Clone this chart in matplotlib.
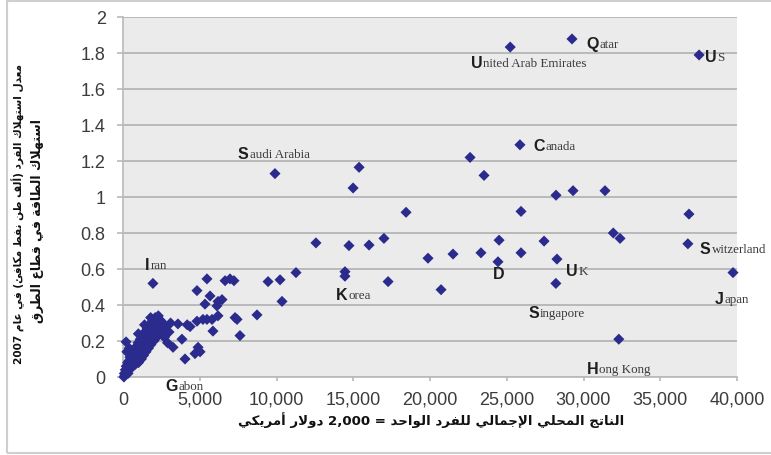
import matplotlib
matplotlib.use('Agg')
import matplotlib.pyplot as plt
from matplotlib.patches import Rectangle

# ---------------- data ----------------
gdp = [
    # dense cluster near origin
    60, 90, 120, 150, 180, 210, 240, 270, 300, 330, 360, 390, 420, 450, 480, 510, 540, 570,
    600, 630, 660, 700, 730, 760, 800, 830, 870, 900, 940, 980, 1010, 1050, 1090, 1120,
    1160, 1200, 1230, 1270, 1300, 1340, 1380, 1420, 1460, 1500, 1540, 1580, 1620, 1660,
    1700, 1740, 1780, 1820, 1860, 1900, 1950, 2000, 2050, 2100, 2150, 2200, 2250, 2300,
    2350, 2400, 2450, 2500, 2600, 2700, 2800, 2900, 3000, 3100, 250, 400, 1000, 1400,
    1800, 200, 2280,
    # low-middle group
    3580, 3840, 3260, 4890, 5020, 4690, 4040, 4370, 4180, 4820, 5210, 5470, 5800, 5860,
    7430, 7620, 8730, 7300, 5340, 6120, 5670, 4820, 6190, 6450, 5470, 6650, 6970, 7230,
    9450, 10230, 10360, 11270, 6190, 1950,
    # middle / high income
    12570, 14720, 16030, 17000, 18440, 15380, 14990, 9900, 22610, 23520, 25860, 14460,
    14460, 17270, 20720, 19870, 21500, 23320, 24500, 25930, 24430, 28270, 28200, 32300,
    36800, 39740, 28210, 29320, 31400, 25930, 36870, 31940, 32380, 27430, 25225, 29250,
    37530,
]
energy = [
    0.00, 0.02, 0.01, 0.04, 0.02, 0.06, 0.03, 0.05, 0.08, 0.02, 0.06, 0.09, 0.04, 0.11, 0.07, 0.05, 0.10, 0.13,
    0.08, 0.06, 0.11, 0.15, 0.09, 0.12, 0.07, 0.14, 0.17, 0.10, 0.13, 0.19, 0.08, 0.15, 0.12, 0.21,
    0.17, 0.10, 0.14, 0.23, 0.19, 0.12, 0.16, 0.25, 0.21, 0.14, 0.18, 0.27, 0.23, 0.16,
    0.20, 0.29, 0.25, 0.18, 0.22, 0.31, 0.27, 0.20, 0.24, 0.33, 0.29, 0.22, 0.26, 0.34,
    0.30, 0.24, 0.28, 0.31, 0.26, 0.22, 0.28, 0.19, 0.25, 0.30, 0.14, 0.16, 0.24, 0.29,
    0.33, 0.195, 0.32,
    0.295, 0.21, 0.165, 0.165, 0.14, 0.13, 0.10, 0.28, 0.29, 0.31, 0.32, 0.32, 0.32, 0.255,
    0.32, 0.23, 0.345, 0.33, 0.405, 0.395, 0.45, 0.48, 0.42, 0.43, 0.545, 0.535, 0.545, 0.535,
    0.53, 0.54, 0.42, 0.58, 0.34, 0.52,
    0.745, 0.73, 0.733, 0.77, 0.915, 1.165, 1.05, 1.13, 1.22, 1.12, 1.29, 0.56,
    0.585, 0.53, 0.485, 0.66, 0.683, 0.69, 0.76, 0.69, 0.64, 0.655, 0.52, 0.21,
    0.74, 0.58, 1.01, 1.035, 1.035, 0.92, 0.905, 0.80, 0.77, 0.755, 1.833, 1.878,
    1.789,
]

label_names = ["Qatar", "United Arab Emirates", "US", "Saudi Arabia", "Canada", "Iran",
               "Korea", "D", "UK", "Singapore", "Switzerland", "Japan", "Hong Kong", "Gabon"]
label_x = [30160, 22670, 37920, 7490, 26710, 1430, 13875, 24110, 28860, 26390, 37590, 38570, 30230, 2740]
label_y = [1.828, 1.722, 1.756, 1.217, 1.261, 0.600, 0.434, 0.550, 0.567, 0.334, 0.689, 0.411, 0.023, -0.072]

xticks = [0, 5000, 10000, 15000, 20000, 25000, 30000, 35000, 40000]
xtick_labels = ["0", "5,000", "10,000", "15,000", "20,000", "25,000", "30,000", "35,000", "40,000"]
yticks = [0, 0.2, 0.4, 0.6, 0.8, 1.0, 1.2, 1.4, 1.6, 1.8, 2.0]
ytick_labels = ["0", "0.2", "0.4", "0.6", "0.8", "1", "1.2", "1.4", "1.6", "1.8", "2"]

ylabel_line1 = "معدل استهلاك الفرد (ألف طن نفط مكافئ) في عام 2007"
ylabel_line2 = "استهلاك الطاقة في قطاع الطرق"
xlabel_text = "الناتج المحلي الإجمالي للفرد الواحد = 2,000 دولار أمريكي"

# ---------------- Arabic shaping helpers ----------------
TWO = {'\u0622': 0xFE81, '\u0623': 0xFE83, '\u0624': 0xFE85, '\u0625': 0xFE87, '\u0627': 0xFE8D,
       '\u0629': 0xFE93, '\u062F': 0xFEA9, '\u0630': 0xFEAB, '\u0631': 0xFEAD, '\u0632': 0xFEAF,
       '\u0648': 0xFEED, '\u0649': 0xFEEF}
FOUR = {'\u0626': 0xFE89, '\u0628': 0xFE8F, '\u062A': 0xFE95, '\u062B': 0xFE99, '\u062C': 0xFE9D,
        '\u062D': 0xFEA1, '\u062E': 0xFEA5, '\u0633': 0xFEB1, '\u0634': 0xFEB5, '\u0635': 0xFEB9,
        '\u0636': 0xFEBD, '\u0637': 0xFEC1, '\u0638': 0xFEC5, '\u0639': 0xFEC9, '\u063A': 0xFECD,
        '\u0641': 0xFED1, '\u0642': 0xFED5, '\u0643': 0xFED9, '\u0644': 0xFEDD, '\u0645': 0xFEE1,
        '\u0646': 0xFEE5, '\u0647': 0xFEE9, '\u064A': 0xFEF1}
LAMALEF = {'\u0622': 0xFEF5, '\u0623': 0xFEF7, '\u0625': 0xFEF9, '\u0627': 0xFEFB}
MIRROR = {'(': ')', ')': '('}


def shape(s):
    toks = []
    i = 0
    while i < len(s):
        c = s[i]
        if c == '\u0644' and i + 1 < len(s) and s[i + 1] in LAMALEF:
            toks.append(('two', LAMALEF[s[i + 1]]))
            i += 2
            continue
        if c in FOUR:
            toks.append(('four', FOUR[c]))
        elif c in TWO:
            toks.append(('two', TWO[c]))
        elif c == '\u0621':
            toks.append(('none', 0xFE80))
        else:
            toks.append(('other', c))
        i += 1
    out = []
    for j, (k, v) in enumerate(toks):
        if k == 'other':
            out.append(v)
            continue
        if k == 'none':
            out.append(chr(v))
            continue
        prev = j > 0 and toks[j - 1][0] == 'four'
        nxt = k == 'four' and j + 1 < len(toks) and toks[j + 1][0] in ('four', 'two')
        if prev and nxt:
            o = v + 3
        elif prev:
            o = v + 1
        elif nxt:
            o = v + 2
        else:
            o = v
        out.append(chr(o))
    return out


def is_ltr(ch):
    return ch.isascii() and (ch.isdigit() or ch in ',.')


def visual_rtl(s):
    """Right-to-left display order (matplotlib lays glyphs left to right)."""
    chars = shape(s)
    runs, cur, cur_ltr = [], [], None
    for ch in chars:
        l = is_ltr(ch)
        if cur and l != cur_ltr:
            runs.append((cur_ltr, cur))
            cur = []
        cur.append(ch)
        cur_ltr = l
    if cur:
        runs.append((cur_ltr, cur))
    res = []
    for l, run in reversed(runs):
        if l:
            res.append(''.join(run))
        else:
            res.append(''.join(MIRROR.get(c, c) for c in reversed(run)))
    return ''.join(res)


# ---------------- figure ----------------
W, H = 771, 456
fig = plt.figure(figsize=(W / 100, H / 100), dpi=100)
fig.patch.set_facecolor('white')
fig.add_artist(Rectangle((7 / W, 2 / H), 1.2, 1 - 3.5 / H, transform=fig.transFigure,
                         fill=False, ec='#cfcfcf', lw=1.5))

ax = fig.add_axes([123 / W, 1 - 378 / H, (737 - 123) / W, (378 - 18) / H])
ax.set_facecolor('#ebebeb')
ax.scatter(gdp, energy, marker='D', s=32, color='#2b2b8e', edgecolors='none', zorder=3,
           clip_on=False)
ax.set_xlim(0, 40000)
ax.set_ylim(0, 2)
ax.set_xticks(xticks)
ax.set_xticklabels(xtick_labels)
ax.set_yticks(yticks)
ax.set_yticklabels(ytick_labels)
ax.grid(axis='y', color='#b9b9b9', lw=1.4)
ax.grid(axis='x', visible=False)
ax.set_axisbelow(True)
for s in ['top', 'right']:
    ax.spines[s].set_visible(False)
for s in ['left', 'bottom']:
    ax.spines[s].set_color('#b9b9b9')
    ax.spines[s].set_linewidth(1.2)
for lab in ax.get_xticklabels() + ax.get_yticklabels():
    lab.set_fontfamily('Liberation Sans')
ax.tick_params(axis='y', length=4.5, width=1.2, color='#b9b9b9', labelsize=13,
               labelcolor='#3c3c3c', pad=8)
ax.tick_params(axis='x', length=3, width=1.2, color='#b9b9b9', labelsize=13,
               labelcolor='#3c3c3c', pad=7)

# point labels: large bold initial + small serif remainder
for name, lx, ly in zip(label_names, label_x, label_y):
    t = ax.text(lx, ly, name[0], fontfamily='Liberation Sans', fontweight='bold',
                fontsize=11.5, color='#1e1e1e', va='baseline', ha='left', clip_on=False,
                zorder=4)
    if len(name) > 1:
        ax.annotate(name[1:], xy=(1, 0), xycoords=t, xytext=(0.6, 0.6),
                    textcoords='offset points', fontfamily='Liberation Serif',
                    fontsize=9.4, color='#3a3a3a', va='bottom', ha='left',
                    annotation_clip=False, zorder=4)

# axis titles (Arabic)
arabic_font = ['DejaVu Sans']
fig.text(18 / W, 1 - 214 / H, visual_rtl(ylabel_line1), rotation=90, ha='center', va='center',
         fontsize=7.6, fontweight='bold', family=arabic_font, color='#111111')
fig.text(38 / W, 1 - 221 / H, visual_rtl(ylabel_line2), rotation=90, ha='center', va='center',
         fontsize=9.0, fontweight='bold', family=arabic_font, color='#111111')
fig.text(431 / W, 1 - 420 / H, visual_rtl(xlabel_text), ha='center', va='center',
         fontsize=9.6, fontweight='bold', family=arabic_font, color='#111111')

fig.savefig('out.png', dpi=100, facecolor='white')
